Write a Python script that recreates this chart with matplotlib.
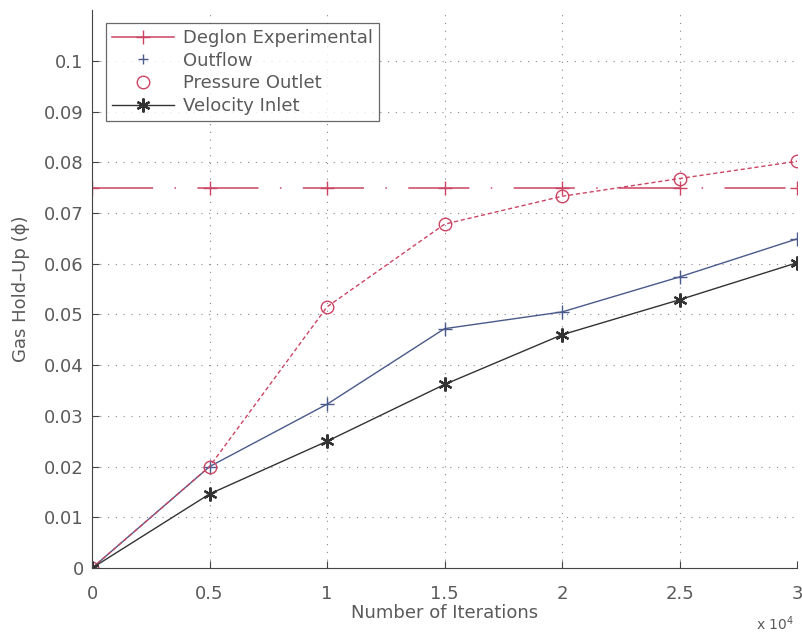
import matplotlib
matplotlib.use("Agg")
import matplotlib.pyplot as plt
from matplotlib.lines import Line2D

plt.rcParams['font.family'] = ['DejaVu Sans']

# iterations in units of 10^4
iterations = [0, 0.5, 1.0, 1.5, 2.0, 2.5, 3.0]
deglon = [0.075, 0.075, 0.075, 0.075, 0.075, 0.075, 0.075]
outflow = [0.0, 0.020, 0.0323, 0.0472, 0.0505, 0.0574, 0.0649]
pressure_outlet = [0.0, 0.020, 0.0515, 0.0678, 0.0733, 0.0768, 0.0802]
velocity_inlet = [0.0, 0.0146, 0.025, 0.0362, 0.046, 0.0529, 0.0602]

x_ticks = [0, 0.5, 1, 1.5, 2, 2.5, 3]
y_ticks = [0, 0.01, 0.02, 0.03, 0.04, 0.05, 0.06, 0.07, 0.08, 0.09, 0.1]

text_color = '#5a5a5a'
red = '#cc4463'
blue = '#4a5a8a'
dark = '#333333'

fig = plt.figure(figsize=(8.03, 6.34), dpi=100)
ax = fig.add_axes([0.1146, 0.104, 0.878, 0.88])

ax.plot(iterations, deglon, color=red, lw=1.1, marker='+', ms=10,
        dashes=(40, 14, 1, 14))
ax.plot(iterations, outflow, color=blue, lw=1.0, marker='+', ms=10)
ax.plot(iterations, pressure_outlet, color=red, lw=1.0, marker='o', ms=9,
        mfc='none', ls=(0, (3, 2)))
ax.plot(iterations, velocity_inlet, color=dark, lw=1.0, marker=(6, 2, 0),
        ms=10, mew=1.6)

ax.set_xlim(0, 3)
ax.set_ylim(0, 0.11)
ax.set_xticks(x_ticks)
ax.set_xticklabels(['%g' % t for t in x_ticks])
ax.set_yticks(y_ticks)
ax.set_yticklabels(['%g' % t for t in y_ticks])
ax.tick_params(direction='in', length=5, colors='#444444', labelcolor=text_color,
               labelsize=13)
ax.tick_params(axis='x', pad=12)
ax.tick_params(axis='y', pad=6)

ax.grid(True, ls=(0, (1, 6)), color='#888888', lw=0.8)
ax.spines['top'].set_visible(False)
ax.spines['right'].set_visible(False)
for s in ('left', 'bottom'):
    ax.spines[s].set_color('#444444')

ax.set_xlabel('Number of Iterations', color=text_color, fontsize=13, labelpad=1)
ax.set_ylabel('Gas Hold\u2013Up (\u03d5)', color=text_color, fontsize=13, labelpad=10)
# scale factor shown below the right end of the x axis
ax.text(0.995, -0.1, r'x 10$^4$', transform=ax.transAxes, ha='right', va='center',
        color=text_color, fontsize=10)

handles = [
    Line2D([], [], color=red, lw=1.1, marker='+', ms=10),
    Line2D([], [], color=blue, ls='none', marker='+', ms=7),
    Line2D([], [], color=red, ls='none', marker='o', ms=9, mfc='none'),
    Line2D([], [], color=dark, lw=1.0, marker=(6, 2, 0), ms=10, mew=1.6),
]
labels = ['Deglon Experimental', 'Outflow', 'Pressure Outlet', 'Velocity Inlet']
leg = ax.legend(handles, labels, loc='upper left', bbox_to_anchor=(0.02, 0.977),
                fontsize=13, frameon=True, fancybox=False, borderpad=0.35,
                labelspacing=0.25, handlelength=3.4, handletextpad=0.5,
                borderaxespad=0)
leg.get_frame().set_edgecolor('#444444')
leg.get_frame().set_linewidth(0.9)
for t in leg.get_texts():
    t.set_color(text_color)

fig.savefig('out.png', dpi=100, facecolor='white')
